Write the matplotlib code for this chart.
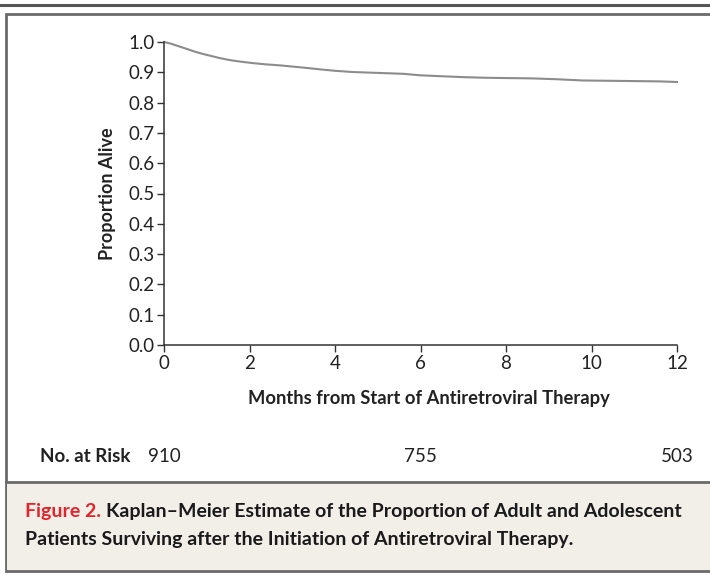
import matplotlib
matplotlib.use("Agg")
import matplotlib.pyplot as plt
from matplotlib.patches import Rectangle
from matplotlib.lines import Line2D

plt.rcParams['font.family'] = ['Lato', 'DejaVu Sans']

# Kaplan-Meier estimate
months = [0, 0.15, 0.3, 0.45, 0.6, 0.75, 0.9, 1.1, 1.3, 1.55, 1.8, 2.1, 2.4, 2.7,
          3.0, 3.3, 3.7, 4.0, 4.4, 4.8, 5.2, 5.6, 6.0, 6.5, 7.0, 7.5, 8.0,
          8.6, 9.2, 9.8, 10.4, 11.0, 11.6, 12.0]
survival = [1.0, 0.995, 0.988, 0.981, 0.974, 0.967, 0.961, 0.954, 0.947, 0.940,
            0.935, 0.930, 0.926, 0.923, 0.919, 0.915, 0.909, 0.905, 0.901, 0.899,
            0.897, 0.895, 0.890, 0.887, 0.884, 0.882, 0.881, 0.880, 0.877, 0.873,
            0.872, 0.871, 0.870, 0.868]

risk_months = [0, 6, 12]
at_risk = ["910", "755", "503"]

W, H = 710, 574
fig = plt.figure(figsize=(W / 100, H / 100), dpi=100)

def fx(px):
    return px / W

def fy(py):
    return 1 - py / H

# frame decorations
fig.add_artist(Line2D([0, 1], [fy(5), fy(5)], color='#555555', lw=2.2, zorder=-5))
fig.add_artist(Rectangle((fx(6), fy(571)), fx(720) - fx(6), fy(14) - fy(571),
                         facecolor='white', edgecolor='#6a6a6a', lw=2, zorder=-5))
fig.add_artist(Rectangle((fx(7), fy(570)), fx(720) - fx(7), fy(483) - fy(570),
                         facecolor='#f2eee8', edgecolor='none', zorder=-4))
fig.add_artist(Line2D([fx(6), 1], [fy(482), fy(482)], color='#6a6a6a', lw=2, zorder=-3))

ax = fig.add_axes([fx(164), fy(345), fx(677) - fx(164), fy(42) - fy(345)])
ax.patch.set_visible(False)
ax.plot(months, survival, color='#8c8c8c', lw=1.5, clip_on=False)
ax.set_xlim(0, 12)
ax.set_ylim(0, 1)
ax.set_xticks(range(0, 13, 2))
ax.set_yticks([i / 10 for i in range(11)])
ax.set_yticklabels([f"{i / 10:.1f}" for i in range(11)])
for s in ['top', 'right']:
    ax.spines[s].set_visible(False)
for s in ['left', 'bottom']:
    ax.spines[s].set_color('#333333')
    ax.spines[s].set_linewidth(1.1)
ax.tick_params(direction='out', length=5, width=1, color='#333333',
               labelsize=13.5, labelcolor='#222222', pad=2)
ax.set_ylabel("Proportion Alive", fontsize=13, fontweight='bold', labelpad=9, color='#222222')
ax.set_xlabel("Months from Start of Antiretroviral Therapy", fontsize=13.2,
              fontweight='bold', labelpad=13, color='#222222')
ax.xaxis.label.set_x(0.517)

# numbers at risk
fig.text(fx(40), fy(457), "No. at Risk", fontsize=13.5, fontweight='bold',
         va='center', ha='left', color='#222222')
risk_y = -(457 - 345) / 303
for m, n in zip(risk_months, at_risk):
    ax.text(m, risk_y, n, fontsize=13.5, ha='center', va='center',
            color='#222222', clip_on=False)

# caption
fig.canvas.draw()
r = fig.canvas.get_renderer()
t1 = fig.text(fx(25), fy(512), "Figure 2.", color='#e3242b', fontsize=14,
              fontweight='bold', va='center', ha='left')
bb = t1.get_window_extent(renderer=r)
fig.text((bb.x1 + 5) / W, fy(512),
         "Kaplan\u2013Meier Estimate of the Proportion of Adult and Adolescent",
         color='#1a1a1a', fontsize=14, fontweight='bold', va='center', ha='left')
fig.text(fx(25), fy(540), "Patients Surviving after the Initiation of Antiretroviral Therapy.",
         color='#1a1a1a', fontsize=14, fontweight='bold', va='center', ha='left')

fig.savefig("out.png", dpi=100)
